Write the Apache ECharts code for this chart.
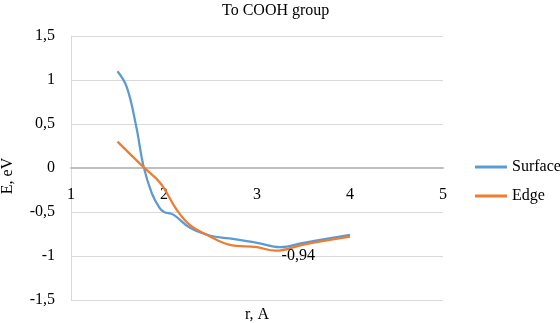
<!DOCTYPE html>
<html>
<head>
<meta charset="utf-8">
<script src="https://cdn.jsdelivr.net/npm/echarts@6/dist/echarts.min.js"></script>
<style>
    html, body { margin: 0; padding: 0; background: #fff; }
    #chart { width: 560px; height: 323px; }
</style>
</head>
<body>
<div id="chart"></div>
<script>
    // values (r in A, E in eV)
    var surfaceR = [1.5, 1.6, 1.7, 1.78, 1.87, 1.95, 2.0, 2.1, 2.28, 2.5, 2.7, 3.0, 3.25, 3.5, 4.0]
    var surfaceE = [1.1, 0.92, 0.48, 0.02, -0.29, -0.45, -0.5, -0.53, -0.68, -0.77, -0.8, -0.85, -0.9, -0.85, -0.76]
    var edgeR = [1.5, 1.78, 1.96, 2.14, 2.28, 2.5, 2.7, 3.0, 3.2, 3.5, 4.0]
    var edgeE = [0.3, 0.01, -0.17, -0.48, -0.65, -0.78, -0.87, -0.9, -0.94, -0.87, -0.78]
    var labelledIndex = 8

    var font = 'Liberation Serif'
    var fs = 16
    var comma = function (v) { return String(v).replace('.', ',') }

    var surfaceData = surfaceR.map(function (r, i) { return [r, surfaceE[i]] })
    var edgeData = edgeR.map(function (r, i) {
        if (i === labelledIndex) {
            return {
                value: [r, edgeE[i]],
                label: {
                    show: true,
                    position: 'right',
                    distance: 6,
                    offset: [0, 5],
                    color: '#000',
                    fontFamily: font,
                    fontSize: fs,
                    formatter: function (p) { return comma(p.value[1]) }
                }
            }
        }
        return [r, edgeE[i]]
    })

    var myChart = echarts.init(document.getElementById('chart'))
    var option = {
        animation: false,
        color: ['#5B9BD5', '#ED7D31'],
        title: {
            text: 'To COOH group',
            left: 217,
            top: -2,
            textStyle: { fontFamily: font, fontSize: fs, fontWeight: 'normal', color: '#000' }
        },
        legend: {
            orient: 'vertical',
            left: 470,
            top: 154,
            itemGap: 13,
            itemWidth: 32,
            itemHeight: 3,
            icon: 'rect',
            textStyle: { fontFamily: font, fontSize: fs, color: '#000' },
            data: ['Surface', 'Edge']
        },
        grid: {
            left: 71,
            right: 117,
            top: 36,
            bottom: 23,
            containLabel: false,
            outerBoundsMode: 'none'
        },
        xAxis: {
            type: 'value',
            min: 1,
            max: 5,
            interval: 1,
            name: 'r, A',
            nameLocation: 'middle',
            nameGap: 7,
            nameTextStyle: { fontFamily: font, fontSize: fs, color: '#000' },
            axisLine: { onZero: true, lineStyle: { color: '#bfbfbf', width: 2 } },
            axisTick: { show: false },
            splitLine: { show: false },
            axisLabel: { margin: -113, fontFamily: font, fontSize: fs, color: '#000' }
        },
        yAxis: {
            type: 'value',
            min: -1.5,
            max: 1.5,
            interval: 0.5,
            name: 'E, eV',
            nameLocation: 'middle',
            nameGap: 55,
            nameTextStyle: { fontFamily: font, fontSize: fs, color: '#000', padding: [0, 16, 0, 0] },
            axisLine: { show: true, lineStyle: { color: '#d9d9d9', width: 1 } },
            axisTick: { show: false },
            splitLine: { lineStyle: { color: '#d9d9d9', width: 1 } },
            axisLabel: { margin: 16, fontFamily: font, fontSize: fs, color: '#000', formatter: comma }
        },
        series: [
            {
                name: 'Surface',
                type: 'line',
                smooth: 0.4,
                showSymbol: false,
                lineStyle: { width: 2.25 },
                data: surfaceData
            },
            {
                name: 'Edge',
                type: 'line',
                smooth: 0.4,
                symbol: 'circle',
                symbolSize: 0,
                showSymbol: true,
                lineStyle: { width: 2.25 },
                data: edgeData
            }
        ]
    }
    myChart.setOption(option)
</script>
</body>
</html>
